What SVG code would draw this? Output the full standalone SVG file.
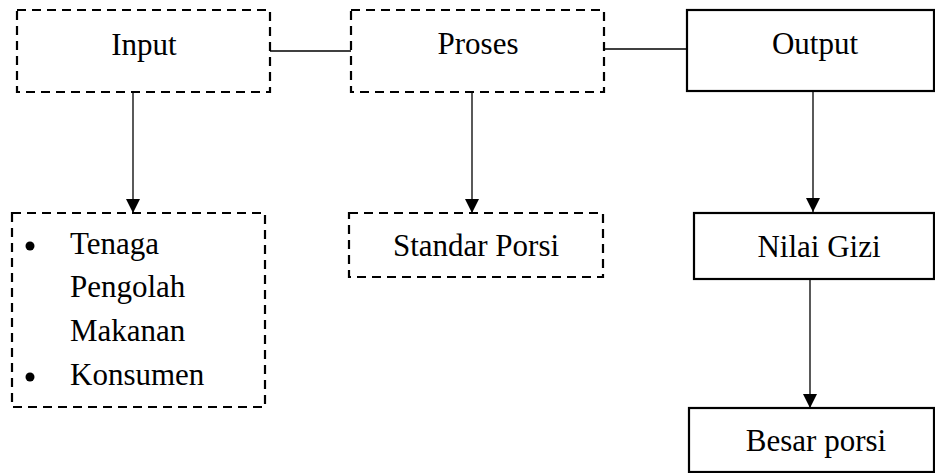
<svg xmlns="http://www.w3.org/2000/svg" width="935" height="473" viewBox="0 0 935 473">
<style>
.box{fill:#fff;stroke:#000;stroke-width:2.2}
.dash{stroke-dasharray:9,6}
.t{font-size:31px;fill:#000}
.c{text-anchor:middle}
.ln{stroke:#000;stroke-width:1.3;fill:none}
</style>
<defs>
<marker id="ah" markerWidth="14" markerHeight="14" refX="14" refY="7" orient="auto" markerUnits="userSpaceOnUse">
<path d="M0,0 L14,7 L0,14 Z" fill="#000"/>
</marker>
</defs>
<g id="connectors">
<line class="ln" x1="270" y1="51" x2="351" y2="51"/>
<line class="ln" x1="604" y1="49" x2="687" y2="49"/>
<line class="ln" x1="133" y1="92" x2="133" y2="213" marker-end="url(#ah)"/>
<line class="ln" x1="472" y1="92" x2="472" y2="213" marker-end="url(#ah)"/>
<line class="ln" x1="813" y1="92" x2="813" y2="212" marker-end="url(#ah)"/>
<line class="ln" x1="810" y1="279" x2="810" y2="408" marker-end="url(#ah)"/>
</g>
<g font-family="Liberation Serif, Times New Roman, DejaVu Serif, serif">
<g id="input">
<rect class="box dash" x="17" y="10" width="253" height="82"/>
<text class="t c" x="144" y="55">Input</text>
</g>
<g id="proses">
<rect class="box dash" x="351" y="10" width="253" height="82"/>
<text class="t c" x="478" y="54">Proses</text>
</g>
<g id="output">
<rect class="box" x="687" y="10" width="247" height="81"/>
<text class="t c" x="815" y="54">Output</text>
</g>
<g id="input-list">
<rect class="box dash" x="12" y="213" width="253" height="194"/>
<circle cx="30" cy="246" r="4.5"/>
<circle cx="30" cy="377" r="4.5"/>
<text class="t" x="70" y="254">Tenaga</text>
<text class="t" x="70" y="297">Pengolah</text>
<text class="t" x="70" y="341">Makanan</text>
<text class="t" x="70" y="385">Konsumen</text>
</g>
<g id="standar-porsi">
<rect class="box dash" x="349" y="213" width="254" height="64"/>
<text class="t c" x="476" y="256">Standar Porsi</text>
</g>
<g id="nilai-gizi">
<rect class="box" x="694" y="213" width="240" height="66"/>
<text class="t c" x="819" y="257">Nilai Gizi</text>
</g>
<g id="besar-porsi">
<rect class="box" x="689" y="408" width="245" height="64"/>
<text class="t c" x="816" y="451">Besar porsi</text>
</g>
</g>
</svg>
